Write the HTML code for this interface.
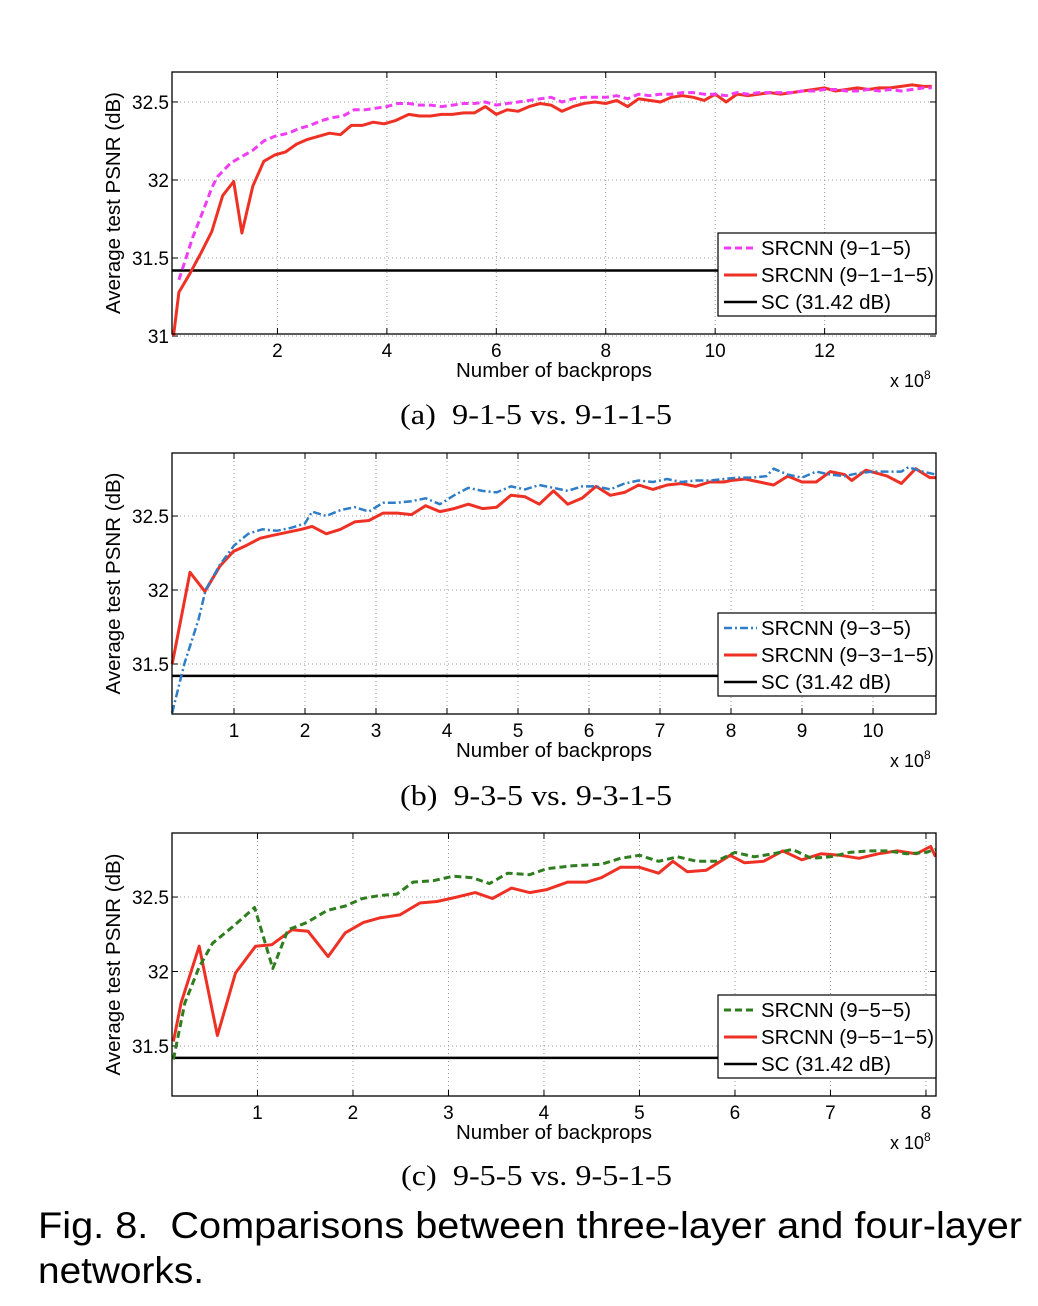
<!DOCTYPE html>
<html><head><meta charset="utf-8"><style>
body{margin:0;background:#fff}
svg{display:block}
text{font-family:"Liberation Sans",sans-serif;fill:#000}
.serif{font-family:"Liberation Serif",serif}
</style></head><body>
<svg id="fig" width="1038" height="1306" viewBox="0 0 1038 1306" xmlns="http://www.w3.org/2000/svg">
<text class="serif" x="400" y="424" font-size="29" textLength="272" lengthAdjust="spacingAndGlyphs">(a)&#160;&#160;9-1-5 vs. 9-1-1-5</text>
<text class="serif" x="400" y="805" font-size="29" textLength="272" lengthAdjust="spacingAndGlyphs">(b)&#160;&#160;9-3-5 vs. 9-3-1-5</text>
<text class="serif" x="401" y="1185" font-size="29" textLength="271" lengthAdjust="spacingAndGlyphs">(c)&#160;&#160;9-5-5 vs. 9-5-1-5</text>
<text x="38" y="1238" font-size="37" textLength="984" lengthAdjust="spacingAndGlyphs">Fig. 8.&#160;&#160;Comparisons between three-layer and four-layer</text>
<text x="38" y="1283" font-size="37" textLength="166" lengthAdjust="spacingAndGlyphs">networks.</text>
</svg>
<script>
// ---- chart (a) data ----
const aRedX=[0.1,0.2,0.4,0.6,0.8,1.0,1.2,1.35,1.55,1.75,1.95,2.15,2.35,2.55,2.75,2.95,3.15,3.35,3.55,3.75,3.95,4.15,4.4,4.6,4.8,5.0,5.2,5.4,5.6,5.8,6.0,6.2,6.4,6.6,6.8,7.0,7.2,7.4,7.6,7.8,8.0,8.2,8.4,8.6,8.8,9.0,9.2,9.4,9.6,9.8,10.0,10.2,10.4,10.6,10.8,11.0,11.2,11.4,11.6,11.8,12.0,12.2,12.4,12.6,12.8,13.0,13.2,13.4,13.6,13.8,13.96];
const aRedY=[31.0,31.28,31.4,31.53,31.67,31.9,31.99,31.66,31.96,32.12,32.16,32.18,32.23,32.26,32.28,32.3,32.29,32.35,32.35,32.37,32.36,32.38,32.42,32.41,32.41,32.42,32.42,32.43,32.43,32.47,32.42,32.45,32.44,32.47,32.49,32.48,32.44,32.47,32.49,32.5,32.49,32.51,32.47,32.52,32.51,32.5,32.53,32.54,32.53,32.51,32.55,32.5,32.55,32.54,32.55,32.56,32.55,32.56,32.57,32.58,32.59,32.57,32.58,32.59,32.58,32.59,32.59,32.6,32.61,32.6,32.6];
const aMagX=[0.2,0.45,0.65,0.8,0.9,1.15,1.35,1.55,1.75,1.95,2.2,2.4,2.6,2.8,3.0,3.2,3.4,3.6,3.8,4.0,4.2,4.4,4.6,4.8,5.0,5.2,5.4,5.6,5.8,6.0,6.2,6.4,6.6,6.8,7.0,7.2,7.4,7.6,7.8,8.0,8.2,8.4,8.6,8.8,9.0,9.2,9.4,9.6,9.8,10.0,10.2,10.4,10.6,10.8,11.0,11.2,11.4,11.6,11.8,12.0,12.2,12.4,12.6,12.8,13.0,13.2,13.4,13.6,13.8,13.96];
const aMagY=[31.36,31.63,31.81,31.95,32.02,32.11,32.15,32.19,32.25,32.28,32.3,32.33,32.35,32.38,32.4,32.41,32.45,32.45,32.46,32.47,32.49,32.49,32.48,32.48,32.47,32.48,32.49,32.49,32.5,32.48,32.49,32.5,32.51,32.52,32.53,32.5,32.52,32.53,32.53,32.53,32.54,32.52,32.55,32.54,32.55,32.55,32.56,32.56,32.55,32.55,32.54,32.56,32.55,32.56,32.56,32.56,32.56,32.57,32.57,32.58,32.58,32.57,32.57,32.58,32.57,32.58,32.57,32.58,32.59,32.59];
const aXTicks=[2,4,6,8,10,12];
const aYTicks=[31,31.5,32,32.5];
const aYLabels=["31","31.5","32","32.5"];
// ---- chart (b) data ----
const bRedX=[0.13,0.38,0.59,0.8,0.99,1.17,1.37,1.55,1.75,1.95,2.1,2.3,2.5,2.7,2.9,3.1,3.3,3.5,3.7,3.9,4.1,4.3,4.5,4.7,4.9,5.1,5.3,5.5,5.7,5.9,6.1,6.3,6.5,6.7,6.9,7.1,7.3,7.5,7.7,7.9,8.0,8.2,8.4,8.6,8.8,9.0,9.2,9.4,9.6,9.7,9.9,10.2,10.4,10.6,10.8,10.89];
const bRedY=[31.5,32.12,31.99,32.16,32.26,32.3,32.35,32.37,32.39,32.41,32.43,32.38,32.41,32.46,32.47,32.52,32.52,32.51,32.57,32.53,32.55,32.58,32.55,32.56,32.64,32.63,32.58,32.67,32.58,32.62,32.7,32.64,32.66,32.71,32.68,32.71,32.72,32.7,32.73,32.73,32.74,32.75,32.73,32.71,32.77,32.73,32.73,32.8,32.78,32.74,32.81,32.77,32.72,32.82,32.76,32.76,32.8];
const bBlueX=[0.13,0.3,0.5,0.6,0.8,1.0,1.2,1.4,1.6,1.8,2.0,2.1,2.3,2.5,2.7,2.9,3.1,3.3,3.5,3.7,3.9,4.1,4.3,4.5,4.7,4.9,5.1,5.3,5.5,5.7,5.9,6.1,6.3,6.5,6.7,6.9,7.1,7.3,7.5,7.7,7.9,8.1,8.3,8.5,8.6,8.8,9.0,9.2,9.4,9.6,9.8,10.0,10.2,10.4,10.5,10.7,10.89];
const bBlueY=[31.17,31.5,31.8,32.0,32.17,32.3,32.38,32.41,32.4,32.42,32.45,32.53,32.5,32.54,32.56,32.53,32.59,32.59,32.6,32.62,32.58,32.64,32.69,32.67,32.66,32.7,32.68,32.71,32.69,32.67,32.7,32.7,32.68,32.72,32.74,32.73,32.75,32.73,32.74,32.74,32.75,32.76,32.76,32.77,32.82,32.78,32.76,32.8,32.78,32.77,32.79,32.8,32.8,32.8,32.83,32.8,32.78];
const bXTicks=[1,2,3,4,5,6,7,8,9,10];
const bYTicks=[31.5,32,32.5];
const bYLabels=["31.5","32","32.5"];
// ---- chart (c) data ----
const cRedX=[0.12,0.2,0.39,0.58,0.77,0.98,1.15,1.36,1.53,1.74,1.92,2.11,2.28,2.49,2.7,2.88,3.09,3.28,3.46,3.66,3.85,4.03,4.25,4.45,4.6,4.8,5.0,5.2,5.35,5.5,5.7,5.95,6.1,6.3,6.5,6.7,6.9,7.1,7.3,7.5,7.7,7.9,8.05,8.1];
const cRedY=[31.53,31.79,32.17,31.57,31.99,32.17,32.18,32.28,32.27,32.1,32.26,32.33,32.36,32.38,32.46,32.47,32.5,32.53,32.49,32.56,32.53,32.55,32.6,32.6,32.63,32.7,32.7,32.66,32.74,32.67,32.68,32.78,32.73,32.74,32.81,32.75,32.79,32.78,32.76,32.79,32.81,32.79,32.84,32.77];
const cGreenX=[0.12,0.24,0.39,0.53,0.74,0.97,1.16,1.32,1.52,1.73,1.92,2.1,2.28,2.46,2.63,2.84,3.05,3.25,3.43,3.62,3.85,4.03,4.3,4.6,4.8,5.0,5.2,5.4,5.6,5.8,6.0,6.2,6.4,6.6,6.8,7.0,7.2,7.4,7.6,7.8,8.0,8.1];
const cGreenY=[31.41,31.79,32.03,32.19,32.3,32.43,32.02,32.28,32.33,32.41,32.44,32.49,32.51,32.52,32.6,32.61,32.64,32.63,32.59,32.66,32.65,32.69,32.71,32.72,32.76,32.78,32.74,32.77,32.74,32.74,32.8,32.77,32.79,32.82,32.76,32.77,32.8,32.81,32.81,32.79,32.8,32.82];
const cXTicks=[1,2,3,4,5,6,7,8];
const cYTicks=[31.5,32,32.5];
const cYLabels=["31.5","32","32.5"];
const scValue=31.42;

const NS="http://www.w3.org/2000/svg";
const svg=document.getElementById('fig');
function mk(tag,attrs,parent){const e=document.createElementNS(NS,tag);for(const k in attrs)e.setAttribute(k,attrs[k]);(parent||svg).appendChild(e);return e;}

function chart(id,box,xd,yd,xTicks,yTicks,yLabels,series,legendNames){
  const g=mk('g',{});
  
  
  const sx=v=>box.x0+(v-xd[0])/(xd[1]-xd[0])*(box.x1-box.x0);
  const sy=v=>box.y1-(v-yd[0])/(yd[1]-yd[0])*(box.y1-box.y0);
  xTicks.forEach(t=>{
    const l=mk('line',{x1:sx(t),x2:sx(t),y1:box.y0,y2:box.y1,stroke:'#999','stroke-width':1,'stroke-dasharray':'1,3'},g);
    
    
    mk('line',{x1:sx(t),x2:sx(t),y1:box.y1,y2:box.y1-6,stroke:'#000'},g);
    mk('line',{x1:sx(t),x2:sx(t),y1:box.y0,y2:box.y0+6,stroke:'#000'},g);
    const tx=mk('text',{x:sx(t),y:box.y1+23,'font-size':19,'text-anchor':'middle'},g);
    tx.textContent=String(t);
    
    
  });
  yTicks.forEach((t,i)=>{
    const l=mk('line',{x1:box.x0,x2:box.x1,y1:sy(t),y2:sy(t),stroke:'#999','stroke-width':1,'stroke-dasharray':'1,3'},g);
    
    
    mk('line',{x1:box.x0,x2:box.x0+6,y1:sy(t),y2:sy(t),stroke:'#000'},g);
    mk('line',{x1:box.x1,x2:box.x1-6,y1:sy(t),y2:sy(t),stroke:'#000'},g);
    const tx=mk('text',{x:box.x0-3,y:sy(t)+7,'font-size':19,'text-anchor':'end'},g);
    tx.textContent=yLabels[i];
    
    
  });
  const sc=mk('line',{x1:box.x0,x2:box.x1,y1:sy(scValue),y2:sy(scValue),stroke:'#000','stroke-width':2.5},g);
  
  
  series.forEach(s=>{
    const d=s.x.map((v,i)=>(i?'L':'M')+sx(v).toFixed(1)+','+sy(s.y[i]).toFixed(1)).join('');
    const p=mk('path',{d:d,fill:'none',stroke:s.color,'stroke-width':s.w,'stroke-dasharray':s.dash||'none','stroke-linejoin':'round'},g);
    
    
  });
  const fr=mk('rect',{x:box.x0,y:box.y0,width:box.x1-box.x0,height:box.y1-box.y0,fill:'none',stroke:'#000','stroke-width':1.3},g);
  
  
  const lg=mk('g',{},g);
  
  
  const ly=box.y1-101;
  mk('rect',{x:718,y:ly,width:box.x1-718,height:83,fill:'#fff',stroke:'#000','stroke-width':1.2},lg);
  const styles=[series[1],series[0],{color:'#000',w:2.5}];
  const lens=[150,173,130];
  legendNames.forEach((n,i)=>{
    const st=styles[i];
    const yy=ly+15+i*27;
    mk('line',{x1:724,x2:757,y1:yy,y2:yy,stroke:st.color,'stroke-width':st.w,'stroke-dasharray':st.dash||'none'},lg);
    const t=mk('text',{x:761,y:yy+7,'font-size':20,textLength:lens[i],lengthAdjust:'spacingAndGlyphs'},lg);
    t.textContent=n;
    
    
  });
  const xt=mk('text',{x:456,y:box.y1+43,'font-size':20,textLength:196,lengthAdjust:'spacingAndGlyphs'},g);
  xt.textContent='Number of backprops';
  
  
  const xe=mk('text',{x:890,y:box.y1+53,'font-size':18},g);
  xe.innerHTML='x 10<tspan dy="-8" font-size="12">8</tspan>';
  
  
  const yc=(box.y0+box.y1)/2;
  const yt=mk('text',{x:120,y:yc,'font-size':20,'text-anchor':'middle',transform:'rotate(-90 120 '+yc+')',textLength:222,lengthAdjust:'spacingAndGlyphs'},g);
  yt.textContent='Average test PSNR (dB)';
  
  
}

chart('a',{x0:172,x1:936,y0:72,y1:334},[0.073,14.036],[31.013,32.692],aXTicks,aYTicks,aYLabels,
 [{x:aRedX,y:aRedY,color:'#ee3124',w:3,name:'series-9-1-1-5'},{x:aMagX,y:aMagY,color:'#f03cf5',w:3,dash:'7,4',name:'series-9-1-5'}],
 ['SRCNN (9\u22121\u22125)','SRCNN (9\u22121\u22121\u22125)','SC (31.42 dB)']);
chart('b',{x0:172,x1:936,y0:453,y1:714},[0.127,10.887],[31.162,32.926],bXTicks,bYTicks,bYLabels,
 [{x:bRedX,y:bRedY,color:'#ee3124',w:3,name:'series-9-3-1-5'},{x:bBlueX,y:bBlueY,color:'#2f7dc6',w:2.5,dash:'8,3,2,3',name:'series-9-3-5'}],
 ['SRCNN (9\u22123\u22125)','SRCNN (9\u22123\u22121\u22125)','SC (31.42 dB)']);
chart('c',{x0:172,x1:936,y0:833,y1:1096},[0.105,8.105],[31.164,32.93],cXTicks,cYTicks,cYLabels,
 [{x:cRedX,y:cRedY,color:'#ee3124',w:3,name:'series-9-5-1-5'},{x:cGreenX,y:cGreenY,color:'#2e7d1f',w:3,dash:'7,4',name:'series-9-5-5'}],
 ['SRCNN (9\u22125\u22125)','SRCNN (9\u22125\u22121\u22125)','SC (31.42 dB)']);
</script>
</body></html>
